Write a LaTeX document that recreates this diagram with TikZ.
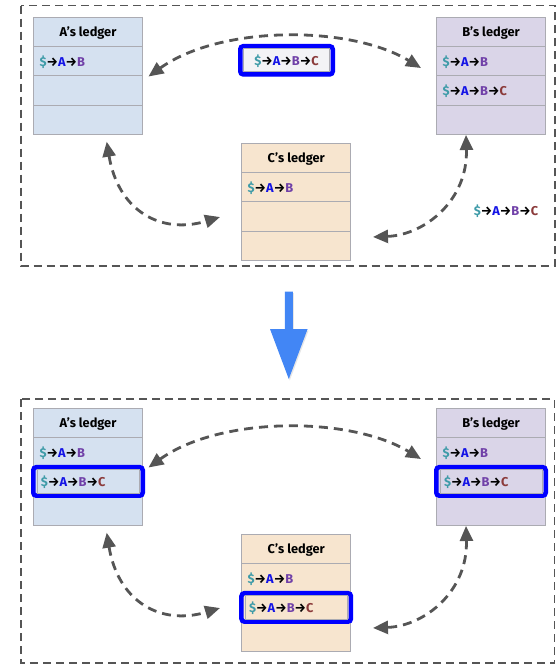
\documentclass[tikz,border=0pt]{standalone}
\usepackage{fontspec}
\setmainfont{Fira Sans}
\usetikzlibrary{arrows.meta,shadows}

\definecolor{cborder}{HTML}{ABABB2}
\definecolor{cfillA}{HTML}{D5E1F0}
\definecolor{cfillB}{HTML}{DAD5E8}
\definecolor{cfillC}{HTML}{F7E5CF}
\definecolor{cdol}{HTML}{3E9BA8}
\definecolor{cletA}{HTML}{1414E6}
\definecolor{cletB}{HTML}{7040A8}
\definecolor{cletC}{HTML}{8B3A3A}
\definecolor{chl}{HTML}{0000FF}
\definecolor{cgray}{HTML}{555555}
\definecolor{cflow}{HTML}{4286F5}
\definecolor{cmsg}{HTML}{F3F3F6}

% transaction chains
\newcommand\chainAB{\textcolor{cdol}{\$}→\textcolor{cletA}{A}→\textcolor{cletB}{B}}
\newcommand\chainABC{\chainAB→\textcolor{cletC}{C}}

% a ledger: name, left x, top y, fill, title, first row, second row
\newcommand\ledger[7]{%
  \node[lhead, fill=#4, anchor=north west] (#1h) at (#2,#3) {#5};
  \node[lrow, fill=#4, anchor=north] (#1r1) at (#1h.south) {#6};
  \node[lrow, fill=#4, anchor=north] (#1r2) at (#1r1.south) {#7};
  \node[lrow, fill=#4, anchor=north] (#1r3) at (#1r2.south) {};
}

% a highlighted ledger row: name, row node, fill, content
\newcommand\hlrow[4]{%
  \node[hlbox, fill=#3] (#1) at (#2.center) {};
  \node[hlinner] (#1t) at (#2.center) {#4};
}

% gossip connectors between the three ledgers of panel #1
\newcommand\gossip[1]{%
  \coordinate (#1ab1) at ([xshift=6pt,yshift=-0.7pt]#1Ar1.south east);
  \coordinate (#1ab2) at ([xshift=-15.5pt,yshift=7.8pt]#1Br1.south west);
  \coordinate (#1ac1) at ([xshift=18.7pt,yshift=-7.4pt]#1Ar3.south);
  \coordinate (#1ac2) at ([xshift=-21.7pt,yshift=-0.6pt]#1Cr2.west);
  \coordinate (#1bc1) at ([xshift=-25pt,yshift=-0.7pt]#1Br3.south);
  \coordinate (#1bc2) at ([xshift=22.3pt,yshift=8.7pt]#1Cr3.east);
  \draw[gossipline] (#1ab1) .. controls +(71.7,-51.5) and +(-71,-43) .. (#1ab2);
  \draw[gossipline] (#1ac1) .. controls +(11.3,68.3) and +(-60,18) .. (#1ac2);
  \draw[gossipline] (#1bc1) .. controls +(2,65) and +(52,-2) .. (#1bc2);
}

\begin{document}
\begin{tikzpicture}[x=1pt,y=-1pt,
  lhead/.style={draw=cborder, line width=0.8pt, minimum width=109pt,
    minimum height=29.25pt, inner sep=0pt, outer sep=0pt, text depth=0pt,
    font=\bfseries\fontsize{12.8}{15}\selectfont},
  lrow/.style={lhead, text width=97pt, inner xsep=6pt, align=left},
  hlbox/.style={draw=chl, line width=4.5pt, rounded corners=3pt,
    minimum width=109.5pt, minimum height=28.5pt, inner sep=0pt,
    drop shadow={shadow xshift=1pt, shadow yshift=-2pt, opacity=0.25}},
  hlinner/.style={draw=cborder, line width=0.8pt, minimum width=102pt,
    minimum height=23.3pt, text width=94pt, inner xsep=4pt, inner ysep=0pt,
    text depth=0pt, align=left, font=\bfseries\fontsize{12.8}{15}\selectfont},
  frame/.style={draw=cgray, line width=1.3pt, dash pattern=on 8pt off 5pt},
  gossipline/.style={draw=cgray, line width=2.8pt, dash pattern=on 9pt off 6pt,
    {Triangle[length=15pt,width=13pt]}-{Triangle[length=15pt,width=13pt]}},
  plain/.style={font=\bfseries\fontsize{12.8}{15}\selectfont, inner sep=0pt}]
\useasboundingbox (0,0) rectangle (559,665);

% ---------------- before: C's transaction is only with B ----------------
\draw[frame] (21,5.7) rectangle (555,266);
\ledger{tA}{33.5}{17.3}{cfillA}{A’s ledger}{\chainAB}{}
\ledger{tB}{436.5}{17.3}{cfillB}{B’s ledger}{\chainAB}{\chainABC}
\ledger{tC}{241.7}{143.3}{cfillC}{C’s ledger}{\chainAB}{}
\gossip{t}
% message travelling from B to A
\node[hlbox, fill=cmsg, minimum width=92.5pt, minimum height=28.2pt] (msg) at (286.5,60.3) {};
\node[hlinner, fill=cmsg, minimum width=86pt, minimum height=23pt, text width=78pt, align=center] (msgt) at (msg.center) {\chainABC};
\node[plain] (loose) at (506,211) {\chainABC};

% ---------------- propagation ----------------
\coordinate (flowtop) at (288.8,291.7);
\coordinate (flowtip) at (288.8,379);
\fill[cflow, drop shadow={shadow xshift=1pt, shadow yshift=-1.5pt, opacity=0.2}]
  ([xshift=-4pt]flowtop) -- ([xshift=4pt]flowtop) -- (292.8,329) -- (307.6,329)
  -- (flowtip) -- (270,329) -- (284.8,329) -- cycle;

% ---------------- after: every ledger holds the transaction ----------------
\draw[frame] (21,399) rectangle (554.5,663);
\ledger{bA}{33.5}{408.3}{cfillA}{A’s ledger}{\chainAB}{}
\ledger{bB}{436.5}{408.3}{cfillB}{B’s ledger}{\chainAB}{}
\ledger{bC}{241.7}{534.3}{cfillC}{C’s ledger}{\chainAB}{}
\gossip{b}
\hlrow{bAx}{bAr2}{cfillA}{\chainABC}
\hlrow{bBx}{bBr2}{cfillB}{\chainABC}
\hlrow{bCx}{bCr2}{cfillC}{\chainABC}
\end{tikzpicture}
\end{document}
